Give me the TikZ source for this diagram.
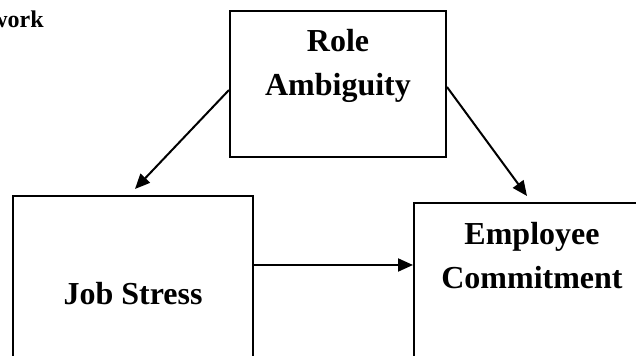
\documentclass[tikz,border=0pt]{standalone}
\usepackage{fontspec}
\setmainfont{Liberation Serif}
\usepackage{tikz}
\usetikzlibrary{positioning,calc,arrows.meta}

\begin{document}
\begin{tikzpicture}[
  x=0.5pt,y=-0.5pt,
  every node/.style={font=\bfseries\fontsize{16}{21.75}\selectfont,align=center},
  box/.style={draw=black,line width=1pt,inner sep=0pt},
  toptxt/.style={anchor=north,inner sep=0pt},
  arr/.style={-{Triangle[length=7.5pt,width=6.5pt]},line width=1pt,black},
  ttl/.style={font=\bfseries\fontsize{12}{14}\selectfont,inner sep=0pt}
]
  \useasboundingbox (0,0) rectangle (636,356);
  \clip (0,0) rectangle (636,356);

  % --- heading, cut at the left edge ---
  \node[ttl,anchor=base east] (head) at (44,28) {work};

  % --- the three variables ---
  \node[box,minimum width=108pt,minimum height=73pt,
    label={[toptxt,yshift=-9.5pt]north:{Role\\Ambiguity}}] (role) at (338,84) {};
  \node[box,minimum width=120pt,minimum height=98pt] (js) at (133,294) {Job Stress};
  \node[box,minimum width=118pt,minimum height=98.5pt,
    label={[toptxt,yshift=-10pt]north:{Employee\\Commitment}}] (ec) at (532,301.5) {};

  % --- paths ---
  \draw[arr] ([yshift=-3pt]role.west) -- ([xshift=1pt,yshift=3pt]js.north);
  \draw[arr] ([yshift=-1.5pt]role.east) -- ([xshift=-2.5pt,yshift=3pt]ec.north);
  \draw[arr] ([yshift=14.5pt]js.east) coordinate (jsout) -- (jsout -| ec.west);

\end{tikzpicture}
\end{document}
